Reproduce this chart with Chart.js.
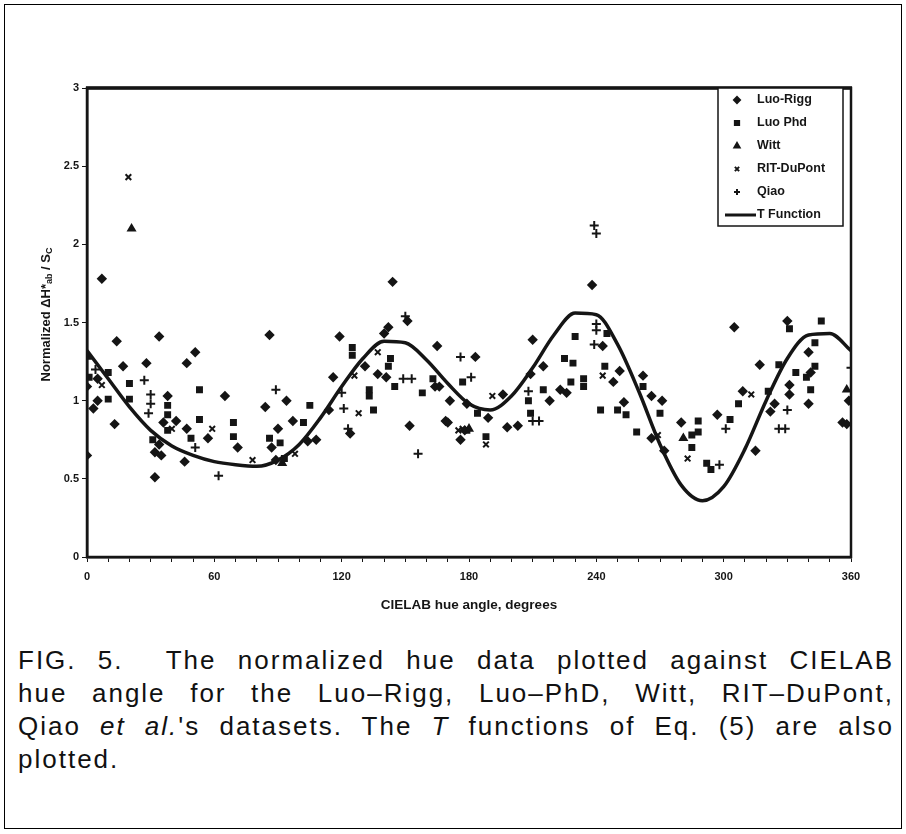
<!DOCTYPE html>
<html>
<head>
<meta charset="utf-8">
<script src="https://cdn.jsdelivr.net/npm/chart.js@4.4.1/dist/chart.umd.min.js"></script>
<style>
  body { margin: 0; background: #fff; }
  #frame { position: absolute; left: 4px; top: 4px; width: 896px; height: 823px; border: 1px solid #000; }
  #wrap { position: absolute; left: 0; top: 0; width: 906px; height: 630px; }
  #caption { position: absolute; left: 18px; top: 644px; width: 876px; font-family: "Liberation Sans", Arial, sans-serif; font-size: 26px; letter-spacing: 2px; line-height: 33px; color: #111; }
  #caption div { text-align: justify; text-align-last: justify; white-space: nowrap; }
  #caption div.last { text-align-last: left; }
</style>
</head>
<body>
<div id="frame"></div>
<div id="wrap"><canvas id="hue-chart"></canvas></div>
<div id="caption">
  <div>FIG. 5.&nbsp; The normalized hue data plotted against CIELAB</div>
  <div>hue angle for the Luo–Rigg, Luo–PhD, Witt, RIT–DuPont,</div>
  <div>Qiao <i>et al.</i>'s datasets. The <i>T</i> functions of Eq. (5) are also</div>
  <div class="last">plotted.</div>
</div>
<script>
// [hue angle, normalized value]
const luoRigg = [
  [0, 1.09], [0, 0.65], [3, 0.95], [5, 1.0], [5, 1.14], [7, 1.78], [13, 0.85], [14, 1.38],
  [17, 1.22], [28, 1.24], [32, 0.67], [32, 0.51], [34, 1.41], [34, 0.72], [35, 0.65], [36, 0.86],
  [38, 1.03], [42, 0.87], [46, 0.61], [47, 1.24], [47, 0.82], [51, 1.31], [57, 0.76], [65, 1.03],
  [71, 0.70], [84, 0.96], [86, 1.42], [87, 0.70], [89, 0.62], [90, 0.82], [94, 1.0], [97, 0.87],
  [104, 0.74], [108, 0.75], [114, 0.94], [116, 1.15], [119, 1.41], [124, 0.79], [131, 1.22],
  [137, 1.17], [140, 1.43], [141, 1.15], [142, 1.47], [144, 1.76], [151, 1.51], [152, 0.84],
  [164, 1.09], [165, 1.35], [166, 1.09], [169, 0.87], [170, 0.86], [171, 1.0], [176, 0.75],
  [178, 0.81], [179, 0.98], [183, 1.28], [189, 0.89], [196, 1.04], [198, 0.83], [203, 0.84],
  [209, 1.17], [210, 1.39], [215, 1.22], [218, 1.0], [223, 1.07], [226, 1.05], [238, 1.74],
  [243, 1.35], [248, 1.12], [251, 1.19], [253, 0.99], [262, 1.16], [266, 1.03], [266, 0.76],
  [271, 1.0], [272, 0.68], [280, 0.86], [297, 0.91], [305, 1.47], [309, 1.06], [315, 0.68],
  [317, 1.23], [322, 0.93], [324, 0.98], [330, 1.51], [331, 1.10], [331, 1.04], [340, 1.31],
  [341, 1.18], [340, 0.98], [356, 0.86], [358, 0.85], [359, 1.0]
];
const luoPhd = [
  [1, 1.15], [10, 1.18], [10, 1.01], [20, 1.11], [20, 1.01], [31, 0.75], [38, 0.97], [38, 0.91],
  [38, 0.81], [49, 0.76], [53, 1.07], [53, 0.88], [69, 0.86], [69, 0.77], [86, 0.76], [91, 0.73],
  [93, 0.63], [102, 0.86], [105, 0.97], [125, 1.34], [125, 1.29], [133, 1.07], [133, 1.03],
  [135, 0.94], [142, 1.22], [143, 1.27], [145, 1.09], [158, 1.05], [163, 1.14], [177, 1.12],
  [179, 0.81], [184, 0.92], [188, 0.77], [208, 1.0], [209, 0.92], [215, 1.07], [225, 1.27],
  [228, 1.12], [229, 1.24], [230, 1.41], [234, 1.14], [234, 1.09], [242, 0.94], [244, 1.22],
  [245, 1.43], [250, 0.94], [254, 0.91], [259, 0.80], [262, 1.09], [270, 0.92], [285, 0.78],
  [285, 0.70], [288, 0.87], [288, 0.80], [292, 0.60], [294, 0.56], [303, 0.88], [307, 0.98],
  [321, 1.06], [326, 1.23], [331, 1.46], [334, 1.18], [339, 1.15], [341, 1.07], [343, 1.22],
  [343, 1.37], [346, 1.51]
];
const witt = [[0, 1.28], [21, 2.10], [92, 0.60], [180, 0.82], [281, 0.76], [358, 1.07]];
const ritDupont = [
  [7, 1.10], [19.5, 2.43], [40, 0.82], [59, 0.82], [78, 0.62], [98, 0.66], [126, 1.16],
  [128, 0.92], [137, 1.31], [175, 0.81], [177, 0.82], [188, 0.72], [191, 1.03], [243, 1.16],
  [269, 0.78], [283, 0.63], [313, 1.04]
];
const qiao = [
  [4, 1.20], [27, 1.13], [30, 1.04], [30, 0.98], [29, 0.92], [51, 0.70], [62, 0.52], [89, 1.07],
  [120, 1.05], [121, 0.95], [123, 0.82], [149, 1.14], [150, 1.54], [153, 1.14], [156, 0.66],
  [176, 1.28], [181, 1.15], [208, 1.06], [210, 0.87], [213, 0.87], [239, 2.12], [240, 2.07],
  [240, 1.49], [240, 1.45], [239, 1.36], [298, 0.59], [301, 0.82], [326, 0.82], [329, 0.82],
  [330, 0.94], [360, 1.21]
];
const tHue = [0, 10, 20, 30, 40, 50, 60, 70, 80, 90, 100, 110, 120, 130, 140, 150, 160, 170, 180,
  190, 200, 210, 220, 230, 240, 250, 260, 270, 280, 290, 300, 310, 320, 330, 340, 350, 360];
const tValues = [1.32, 1.14, 0.96, 0.81, 0.71, 0.65, 0.61, 0.59, 0.58, 0.62, 0.72, 0.89, 1.09,
  1.27, 1.38, 1.37, 1.26, 1.11, 0.98, 0.94, 1.03, 1.21, 1.42, 1.56, 1.55, 1.36, 1.06, 0.72, 0.46,
  0.36, 0.45, 0.69, 1.0, 1.27, 1.42, 1.43, 1.32];
const xTicks = [0, 60, 120, 180, 240, 300, 360];

const ink = "#151515";
const fontFam = "'Liberation Sans', Arial, sans-serif";
const toXY = (arr) => arr.map((p) => ({ x: p[0], y: p[1] }));

const series = [
  { label: "Luo-Rigg", data: luoRigg, style: "rectRot", r: 3.8 },
  { label: "Luo Phd", data: luoPhd, style: "rect", r: 3.5 },
  { label: "Witt", data: witt, style: "triangle", r: 3.8 },
  { label: "RIT-DuPont", data: ritDupont, style: "crossRot", r: 4 },
  { label: "Qiao", data: qiao, style: "cross", r: 4.5 },
];

const datasets = series.map((s) => ({
  type: "scatter",
  label: s.label,
  data: toXY(s.data),
  pointStyle: s.style,
  pointRadius: s.r,
  borderWidth: 2,
  borderColor: ink,
  backgroundColor: ink,
}));
datasets.push({
  type: "line",
  label: "T Function",
  data: tHue.map((h, i) => ({ x: h, y: tValues[i] })),
  borderColor: ink,
  borderWidth: 3.5,
  pointRadius: 0,
  cubicInterpolationMode: "monotone",
  fill: false,
});

// draws text pieces in a row, smaller pieces dropped as subscripts
function drawPieces(ctx, pieces, x, y) {
  let total = 0;
  pieces.forEach((p) => {
    ctx.font = `bold ${p.size}px ${fontFam}`;
    total += ctx.measureText(p.t).width;
  });
  let cx = x - total / 2;
  pieces.forEach((p) => {
    ctx.font = `bold ${p.size}px ${fontFam}`;
    ctx.fillText(p.t, cx, y + (p.dy || 0));
    cx += ctx.measureText(p.t).width;
  });
}

// frame around plot, y title and legend box in top right
const boxPlugin = {
  id: "boxes",
  afterDraw(chart) {
    const ctx = chart.ctx;
    const a = chart.chartArea;
    ctx.save();
    ctx.strokeStyle = ink;
    ctx.lineWidth = 2.5;
    ctx.strokeRect(a.left, a.top, a.right - a.left, a.bottom - a.top);
    ctx.lineWidth = 3.5;
    ctx.beginPath();
    ctx.moveTo(a.left - 1, a.top);
    ctx.lineTo(a.right + 1, a.top);
    ctx.stroke();

    // y title
    ctx.save();
    ctx.translate(46, (a.top + a.bottom) / 2 - 8);
    ctx.rotate(-Math.PI / 2);
    ctx.fillStyle = ink;
    ctx.textBaseline = "middle";
    drawPieces(ctx, [
      { t: "Normalized ΔH*", size: 13 },
      { t: "ab", size: 9, dy: 4 },
      { t: " / S", size: 13 },
      { t: "C", size: 9, dy: 4 },
    ], 0, 0);
    ctx.restore();

    const lx = 718, ly = a.top, lw = 125, lh = 138;
    ctx.fillStyle = "#fff";
    ctx.fillRect(lx, ly, lw, lh);
    ctx.lineWidth = 1.5;
    ctx.strokeRect(lx, ly, lw, lh);
    ctx.font = `bold 12.5px ${fontFam}`;
    ctx.textBaseline = "middle";
    chart.data.datasets.forEach((ds, i) => {
      const y = ly + 12 + i * 23;
      ctx.fillStyle = ink;
      ctx.strokeStyle = ink;
      if (ds.type === "line") {
        ctx.lineWidth = 3;
        ctx.beginPath();
        ctx.moveTo(725, y);
        ctx.lineTo(756, y);
        ctx.stroke();
      } else {
        ctx.lineWidth = 2;
        Chart.helpers.drawPoint(ctx, { pointStyle: ds.pointStyle, radius: 3, borderWidth: 2, rotation: 0 }, 737, y);
      }
      ctx.fillText(ds.label, 757, y);
    });
    ctx.restore();
  },
};

const tickFont = { family: fontFam, size: 11, weight: "bold" };
const titleFont = { family: fontFam, size: 13.5, weight: "bold" };

new Chart(document.querySelector("#hue-chart"), {
  data: { datasets },
  plugins: [boxPlugin],
  options: {
    responsive: true,
    maintainAspectRatio: false,
    animation: false,
    layout: { padding: { left: 0, top: 88, right: 55, bottom: 0 } },
    plugins: { legend: { display: false }, tooltip: { enabled: false } },
    scales: {
      x: {
        type: "linear",
        min: 0,
        max: 360,
        afterFit(scale) { scale.height = 73; },
        ticks: {
          stepSize: 10,
          autoSkip: false,
          maxRotation: 0,
          padding: 8,
          color: ink,
          font: tickFont,
          callback: (v) => (xTicks.includes(v) ? String(v) : ""),
        },
        grid: { drawOnChartArea: false, tickLength: 5, color: ink },
        border: { color: ink, width: 2.5 },
        title: {
          display: true,
          text: "CIELAB hue angle, degrees",
          color: ink,
          font: titleFont,
          padding: { top: 4, bottom: 17 },
        },
      },
      y: {
        min: 0,
        max: 3,
        afterFit(scale) { scale.width = 87; },
        ticks: { stepSize: 0.5, padding: 3, color: ink, font: tickFont, callback: (v) => String(v) },
        grid: { drawOnChartArea: false, tickLength: 5, color: ink },
        border: { color: ink, width: 2.5 },
        title: { display: false },
      },
    },
  },
});
</script>
</body>
</html>
